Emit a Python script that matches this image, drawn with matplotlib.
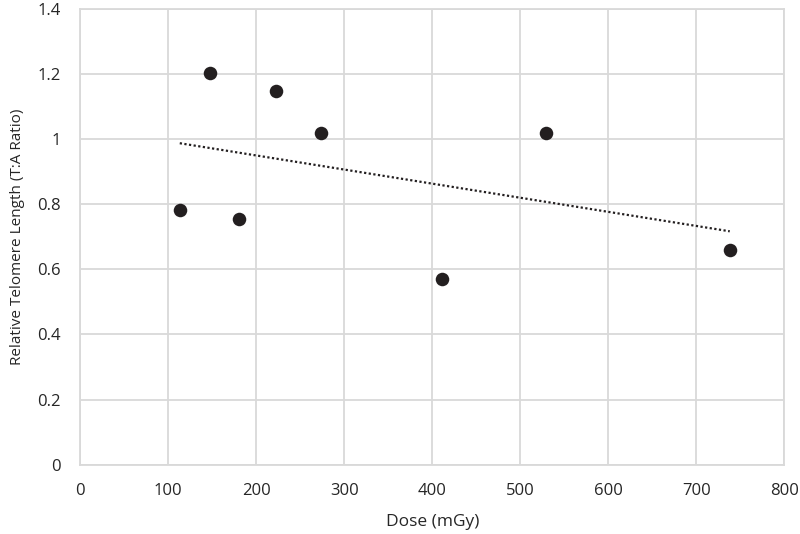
import matplotlib.pyplot as plt
import numpy as np

# dose (mGy) and relative telomere length
dose = np.array([113, 147, 180, 222, 273, 411, 529, 738])
telomere = np.array([0.783, 1.205, 0.755, 1.15, 1.02, 0.572, 1.02, 0.66])

x_ticks = [0, 100, 200, 300, 400, 500, 600, 700, 800]
y_ticks = [0, 0.2, 0.4, 0.6, 0.8, 1.0, 1.2, 1.4]
y_labels = ['0', '0.2', '0.4', '0.6', '0.8', '1', '1.2', '1.4']

plt.rcParams['font.family'] = ['Open Sans', 'DejaVu Sans']

fig = plt.figure(figsize=(8, 5.34), dpi=100)
ax = fig.add_axes([0.1004, 0.130, 0.8800, 0.8526])

# linear trendline across the data range
slope, intercept = np.polyfit(dose, telomere, 1)
xs = np.array([dose.min(), dose.max()])
ax.plot(xs, slope * xs + intercept, color='#231f20', lw=1.6,
        linestyle=(0, (1, 1.1)), zorder=2)

ax.scatter(dose, telomere, s=95, color='#231f20', zorder=3, linewidths=0)

ax.set_xlim(0, 800)
ax.set_ylim(0, 1.4)
ax.set_xticks(x_ticks)
ax.set_yticks(y_ticks)
ax.set_yticklabels(y_labels)
ax.grid(True, color='#d9d9d9', lw=1.3)
ax.set_axisbelow(True)
for s in ax.spines.values():
    s.set_color('#d9d9d9')
    s.set_linewidth(1.3)
ax.tick_params(length=0, labelsize=12, colors='#262626')
ax.tick_params(axis='y', pad=14)
ax.tick_params(axis='x', pad=13)

ax.set_xlabel('Dose (mGy)', fontsize=12.5, color='#262626', labelpad=11)
ax.set_ylabel('Relative Telomere Length (T:A Ratio)', fontsize=11,
              color='#262626', labelpad=9)

fig.savefig('out.png', dpi=100)
